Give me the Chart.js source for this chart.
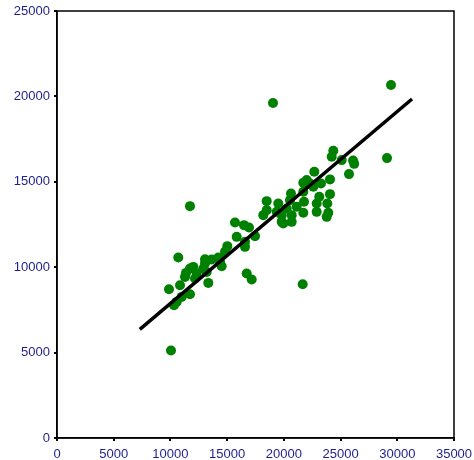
<!DOCTYPE html>
<html>
<head>
<meta charset="utf-8">
<script src="https://cdn.jsdelivr.net/npm/chart.js@4/dist/chart.umd.min.js"></script>
<style>
html,body{margin:0;padding:0;background:#fff;}
#wrap{width:474px;height:460px;position:relative;}
</style>
</head>
<body>
<div id="wrap"><canvas id="c" width="474" height="460"></canvas></div>
<script>
// Scatter data (x, y)
const pointsX = [29445,19043,29093,24359,24218,25099,26100,26200,25743,22684,22013,21714,22304,23274,24068,22596,21714,20629,24068,23124,18487,19510,20541,21776,23830,22895,11725,21132,20250,18487,19369,21714,22895,23918,18187,19810,20691,23777,19810,20691,19951,15692,16486,16927,15842,17456,16574,16574,15014,14811,10694,13048,13638,14220,12016,11725,12898,14520,11373,12316,13197,11284,13339,12166,16724,17165,9874,10844,11725,10993,10315,10553,21661,10050,14370,13048];
const pointsY = [20665,19610,16388,16815,16464,16270,16250,16050,15450,15585,15099,14940,14905,14905,15140,14706,14413,14319,14278,14120,13868,13733,13927,13827,13733,13733,13575,13534,13441,13341,13241,13183,13241,13183,13048,13048,13048,12948,12655,12655,12562,12620,12462,12327,11777,11818,11484,11191,11232,10898,10570,10470,10453,10570,10019,9925,9925,10060,9667,9632,9726,9433,9081,9339,9632,9281,8712,8947,8419,8261,7775,7968,9005,5121,10312,10218];
// Fitted trend line endpoints
const trendX = [7300, 31300];
const trendY = [6360, 19850];
// Axis ticks
const xTicks = [0,5000,10000,15000,20000,25000,30000,35000];
const yTicks = [0,5000,10000,15000,20000,25000];

const scatterData = pointsX.map((x,i)=>({x:x,y:pointsY[i]}));
const trendData = trendX.map((x,i)=>({x:x,y:trendY[i]}));

const labelColor = '#1e1e8c';
const font = {family:'"Liberation Sans", Arial, sans-serif', size:13};

const boxPlugin = {
  id:'box',
  beforeDatasetsDraw(chart){
    const a = chart.chartArea, ctx = chart.ctx;
    ctx.save();
    ctx.strokeStyle = '#000';
    ctx.lineWidth = 1.5;
    ctx.strokeRect(a.left, a.top, a.right-a.left, a.bottom-a.top);
    ctx.restore();
  }
};

new Chart(document.getElementById('c'), {
  type:'scatter',
  data:{datasets:[
    {type:'line', data:trendData, borderColor:'#000', borderWidth:3.5, pointRadius:0, fill:false, order:0},
    {type:'scatter', data:scatterData, backgroundColor:'#008000', borderWidth:0, pointRadius:5, pointHoverRadius:5, order:1}
  ]},
  plugins:[boxPlugin],
  options:{
    responsive:false,
    animation:false,
    events:[],
    layout:{padding:{top:11, right:20, left:0, bottom:0}},
    plugins:{legend:{display:false}, tooltip:{enabled:false}},
    scales:{
      x:{
        type:'linear', min:0, max:35000,
        afterBuildTicks(s){ s.ticks = xTicks.map(v=>({value:v})); },
        afterFit(s){ s.height = 22; s.paddingLeft = 0; s.paddingRight = 0; },
        ticks:{color:labelColor, font:font, padding:6, maxRotation:0, autoSkip:false, callback:v=>String(v)},
        grid:{drawOnChartArea:false, drawTicks:true, tickLength:3, color:'#000', lineWidth:2},
        border:{display:true, color:'#000', width:1.5}
      },
      y:{
        type:'linear', min:0, max:25000,
        afterBuildTicks(s){ s.ticks = yTicks.map(v=>({value:v})); },
        afterFit(s){ s.width = 57; s.paddingTop = 0; s.paddingBottom = 0; },
        ticks:{color:labelColor, font:font, padding:4, autoSkip:false, callback:v=>String(v)},
        grid:{drawOnChartArea:false, drawTicks:true, tickLength:3, color:'#000', lineWidth:2},
        border:{display:true, color:'#000', width:1.5}
      }
    }
  }
});
</script>
</body>
</html>
